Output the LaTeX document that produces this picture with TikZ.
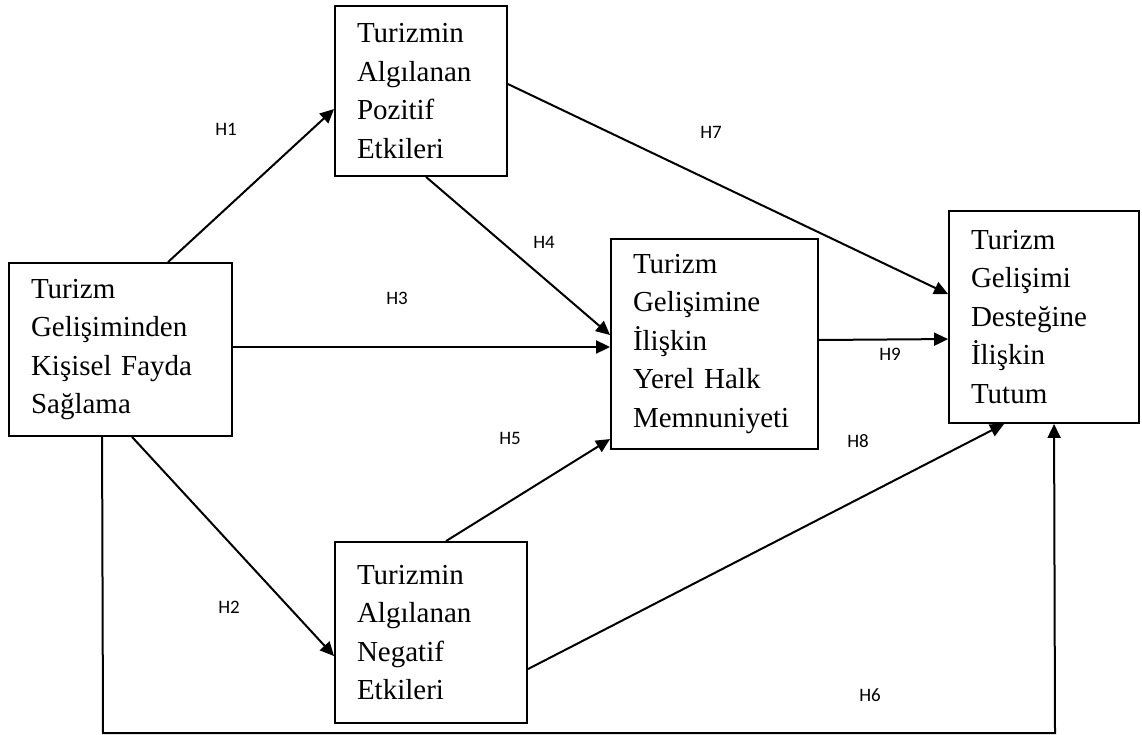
\documentclass[tikz,border=0pt]{standalone}
\usepackage{fontspec}
\setmainfont{Liberation Serif}
\newfontfamily\labfont{Carlito}
\usetikzlibrary{arrows.meta}
\begin{document}
\begin{tikzpicture}[x=1pt,y=-1pt,
  box/.style={draw,line width=1.9pt,rectangle,inner xsep=22pt,inner ysep=0pt,
    align=left,font={\fontsize{29}{38.5}\selectfont}},
  arr/.style={line width=2pt,-{Triangle[length=14pt,width=13pt]}},
  hlab/.style={font={\labfont\fontsize{19}{22}\selectfont},inner sep=0pt}]
\useasboundingbox (0,0) rectangle (1142,735);
\node[box,minimum width=223pt,minimum height=173pt,text width=179pt] (L) at (120.5,349.5)
  {Turizm\\Gelişiminden\\Kişisel Fayda\\Sağlama};
\node[box,minimum width=172pt,minimum height=170pt,text width=128pt] (P) at (421,91)
  {Turizmin\\Algılanan\\Pozitif\\Etkileri};
\node[box,minimum width=207pt,minimum height=210pt,text width=163pt] (M) at (714.5,344)
  {Turizm\\Gelişimine\\İlişkin\\Yerel Halk\\Memnuniyeti};
\node[box,minimum width=190pt,minimum height=212pt,text width=146pt] (R) at (1044,317)
  {Turizm\\Gelişimi\\Desteğine\\İlişkin\\Tutum};
\node[box,minimum width=192pt,minimum height=181pt,text width=148pt] (N) at (431,632.5)
  {Turizmin\\Algılanan\\Negatif\\Etkileri};
\coordinate (L6) at (103,733);
\coordinate (R6) at (1055,733);
% connectors
\draw[arr] ([xshift=160pt]L.north west) -- ([yshift=-104pt]P.north west);
\draw[arr] ([xshift=124pt]L.south west) -- ([yshift=-115pt]N.north west);
\draw[arr] ([yshift=2.5pt]L.east) -- ([yshift=-3pt]M.west);
\draw[arr] ([xshift=92pt]P.south west) -- ([yshift=-97pt]M.north west);
\draw[arr] ([xshift=112pt]N.north west) -- ([yshift=-201pt]M.north west);
\draw[arr] ([yshift=-79pt]P.north east) -- ([yshift=-84pt]R.north west);
\draw[arr] ([yshift=-128pt]N.north east) -- ([xshift=56pt]R.south west);
\draw[arr] ([yshift=4pt]M.east) -- ([yshift=-129pt]R.north west);
\draw[arr] ([xshift=94pt]L.south west) -- (L6) -- (R6) -- ([xshift=106pt]R.south west);
% labels
\node[hlab] (h1) at (226,129) {H1};
\node[hlab] (h2) at (229,607) {H2};
\node[hlab] (h3) at (397,298) {H3};
\node[hlab] (h4) at (544,242) {H4};
\node[hlab] (h5) at (510,438) {H5};
\node[hlab] (h6) at (870,695) {H6};
\node[hlab] (h7) at (711,132) {H7};
\node[hlab] (h8) at (858,441) {H8};
\node[hlab] (h9) at (890,354) {H9};
\end{tikzpicture}
\end{document}
